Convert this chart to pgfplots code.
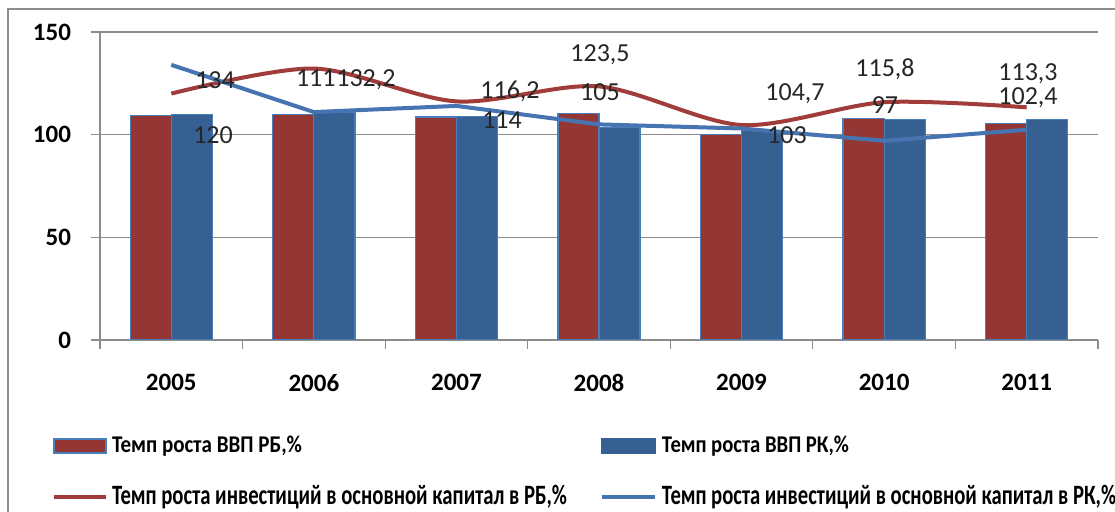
\documentclass[border=0pt]{standalone}
\usepackage{fontspec}
\setmainfont{Carlito}
\usepackage{graphicx}
\usepackage{pgfplots}
\pgfplotsset{compat=1.18}
\definecolor{rbbar}{HTML}{943634}
\definecolor{rkbar}{HTML}{376092}
\definecolor{rbline}{HTML}{A03C3A}
\definecolor{rkline}{HTML}{4674B0}
\definecolor{barline}{HTML}{4A7EBB}
\definecolor{gridc}{HTML}{8C8C8C}
\newcommand\legA[2]{\makebox[246pt][l]{\hspace{2pt}\raisebox{0pt}[#2][0.5pt]{#1}}}
\newcommand\legB[2]{\makebox[230pt][l]{\hspace{2.5pt}\raisebox{0pt}[#2][0.5pt]{#1}}}
\newcommand\lone[1]{\resizebox{95pt}{\height}{\fontsize{12}{12}\selectfont\bfseries #1}}
\newcommand\ltwo[1]{\resizebox{93.5pt}{\height}{\fontsize{12}{12}\selectfont\bfseries #1}}
\newcommand\lthree[1]{\resizebox{227.5pt}{\height}{\fontsize{14}{14}\selectfont\bfseries #1}}
\newcommand\lfour[1]{\resizebox{227pt}{\height}{\fontsize{14}{14}\selectfont\bfseries #1}}
\begin{document}
\begin{tikzpicture}
\useasboundingbox (0,0) rectangle (557.5pt,256pt);
\fill[white] (0,0) rectangle (557.5pt,256pt);
\draw[gridc, line width=1.2pt] (4pt,-5pt) -- (4pt,251.5pt) -- (565pt,251.5pt);
\begin{axis}[
  at={(50pt,86pt)}, anchor=south west,
  scale only axis, width=499pt, height=154pt,
  xmin=-0.5, xmax=6.5, ymin=0, ymax=150,
  axis x line*=bottom, axis y line*=left,
  axis line style={draw=gridc, line width=0.6pt},
  ymajorgrids=true,
  grid style={draw=gridc, line width=0.6pt},
  ytick={0,50,100,150},
  xtick={-0.5,0.5,...,6.5}, xticklabels={},
  extra x ticks={0,1,2,3,4,5,6},
  extra x tick labels={2005,2006,2007,2008,2009,2010,2011},
  extra x tick style={major tick length=0pt, grid=none},
  tick align=outside, major tick length=4.5pt,
  tick style={draw=gridc, line width=0.6pt},
  /pgf/number format/assume math mode=true,
  ticklabel style={font=\fontsize{12.5}{14}\selectfont\bfseries, text=black},
  yticklabel style={xshift=-6.5pt},
  xticklabel style={yshift=-13.5pt},
  legend columns=2,
  legend cell align=left,
  legend style={draw=none, fill=none, inner sep=0pt, outer sep=0pt,
    at={(axis description cs:-0.0481,-0.3133)}, anchor=north west,
    column sep=0pt, row sep=15.25pt,
    nodes={inner sep=0pt}},
]
\addplot[ybar, bar width=0.288, bar shift=-0.144, fill=rbbar, draw=barline, line width=0.6pt,
  legend image code/.code={\draw[fill=rbbar, draw=barline, line width=0.6pt] (0pt,-3.5pt) rectangle (26pt,3.5pt);}]
  coordinates {(0,109.4) (1,110.0) (2,108.6) (3,110.2) (4,100.2) (5,107.7) (6,105.3)};
\addlegendentry{\legA{\lone{Темп роста ВВП РБ,\%}}{8pt}}
\addplot[ybar, bar width=0.288, bar shift=0.144, fill=rkbar, draw=barline, line width=0.6pt,
  legend image code/.code={\fill[rkbar] (0pt,-3.5pt) rectangle (26.5pt,3.5pt);}]
  coordinates {(0,109.7) (1,110.7) (2,108.9) (3,103.3) (4,102.0) (5,107.3) (6,107.5)};
\addlegendentry{\legB{\ltwo{Темп роста ВВП РК,\%}}{8pt}}
\addplot[rbline, line width=2pt, smooth, mark=none,
  legend image code/.code={\draw[rbline, line width=2pt] (0pt,0pt) -- (26pt,0pt);}]
  coordinates {(0,120) (1,132.2) (2,116.2) (3,123.5) (4,104.7) (5,115.8) (6,113.3)};
\addlegendentry{\legA{\lthree{Темп роста инвестиций в основной капитал в РБ,\%}}{9.5pt}}
\addplot[rkline, line width=2pt, mark=none,
  legend image code/.code={\draw[rkline, line width=2pt] (0pt,0pt) -- (26.5pt,0pt);}]
  coordinates {(0,134) (1,111) (2,114) (3,105) (4,103) (5,97) (6,102.4)};
\addlegendentry{\legB{\lfour{Темп роста инвестиций в основной капитал в РК,\%}}{9.5pt}}
\begin{scope}[every node/.style={font=\fontsize{13}{15}\selectfont, text=black!85, inner sep=0pt}]
\node[anchor=base] at (axis cs:0.307,122.5) {134};
\node[anchor=base] at (axis cs:0.293,95.7) {120};
\node[anchor=base east] at (axis cs:1.155,123.5) {111};
\node[anchor=base west] at (axis cs:1.155,123.5) {132,2};
\node[anchor=base] at (axis cs:2.376,117.6) {116,2};
\node[anchor=base] at (axis cs:2.320,103.0) {114};
\node[anchor=base] at (axis cs:3.007,135.6) {123,5};
\node[anchor=base] at (axis cs:3.007,116.6) {105};
\node[anchor=base] at (axis cs:4.375,116.6) {104,7};
\node[anchor=base] at (axis cs:4.319,95.7) {103};
\node[anchor=base] at (axis cs:5.006,128.3) {115,8};
\node[anchor=base] at (axis cs:5.006,110.3) {97};
\node[anchor=base] at (axis cs:6.009,126.4) {113,3};
\node[anchor=base] at (axis cs:6.009,114.8) {102,4};
\end{scope}
\end{axis}
\end{tikzpicture}
\end{document}
